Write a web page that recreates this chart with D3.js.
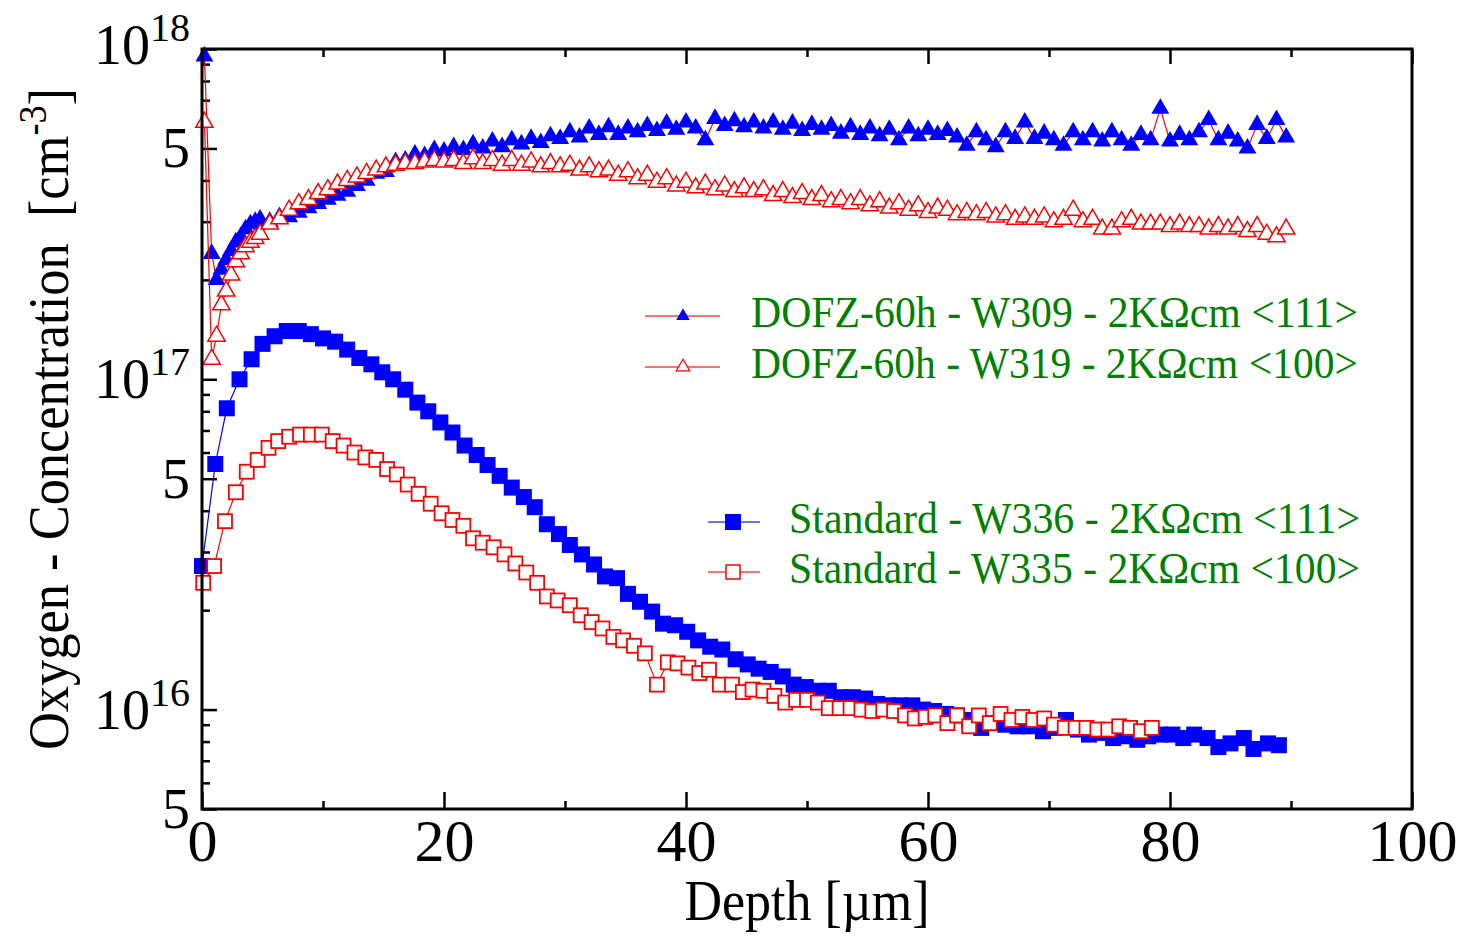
<!DOCTYPE html>
<html>
<head>
<meta charset="utf-8">
<script src="https://cdn.jsdelivr.net/npm/d3@7"></script>
<style>
body { margin: 0; background: #fff; }
svg text { font-family: "Liberation Serif", "Times New Roman", serif; }
</style>
</head>
<body>
<script>
// DOFZ wafers share one depth grid (um), values in 1e17 cm^-3
var dofzDepth = [0.2,0.8,1.2,1.6,2.0,2.4,2.8,3.2,3.6,4.0,4.4,4.8,
  5.6,6.4,7.2,8.0,8.8,9.6,10.4,11.2,12.0,12.8,
  13.6,14.4,15.2,16.0,16.8,17.6,18.4,19.2,20.0,20.8,
  21.6,22.4,23.2,24.0,24.8,25.6,26.4,27.2,28.0,28.8,
  29.6,30.4,31.2,32.0,32.8,33.6,34.4,35.2,36.0,36.8,
  37.6,38.4,39.2,40.0,40.8,41.6,42.4,43.2,44.0,44.8,
  45.6,46.4,47.2,48.0,48.8,49.6,50.4,51.2,52.0,52.8,
  53.6,54.4,55.2,56.0,56.8,57.6,58.4,59.2,60.0,60.8,
  61.6,62.4,63.2,64.0,64.8,65.6,66.4,67.2,68.0,68.8,
  69.6,70.4,71.2,72.0,72.8,73.6,74.4,75.2,76.0,76.8,
  77.6,78.4,79.2,80.0,80.8,81.6,82.4,83.2,84.0,84.8,
  85.6,86.4,87.2,88.0,88.8,89.6];

var w309 = [9.5,2.4,2.0,2.15,2.3,2.45,2.6,2.7,2.85,2.95,3.0,3.05,
  3.0,3.1,3.1,3.2,3.3,3.4,3.5,3.6,3.7,3.85,
  4.0,4.2,4.25,4.55,4.6,4.8,4.75,4.95,4.9,5.05,
  4.95,5.15,5.0,5.25,5.05,5.3,5.15,5.35,5.2,5.45,
  5.35,5.6,5.4,5.75,5.5,5.8,5.5,5.75,5.6,5.85,
  5.65,5.95,5.7,6.0,5.75,5.3,6.15,5.85,6.05,5.8,
  6.0,5.75,6.0,5.7,5.95,5.65,5.9,5.7,5.85,5.55,
  5.8,5.5,5.75,5.45,5.7,5.3,5.75,5.45,5.7,5.5,
  5.65,5.4,5.1,5.6,5.3,5.05,5.6,5.35,6.0,5.35,
  5.55,5.3,5.1,5.6,5.3,5.6,5.25,5.6,5.3,5.1,
  5.5,5.3,6.6,5.25,5.5,5.3,5.6,6.1,5.3,5.55,
  5.25,5.0,5.9,5.35,6.1,5.4];

var w319 = [6.0,1.15,1.35,1.68,1.85,2.07,2.27,2.4,2.52,2.6,2.67,2.75,
  2.95,3.06,3.25,3.4,3.5,3.65,3.75,3.9,4.0,4.1,
  4.2,4.3,4.4,4.45,4.5,4.5,4.55,4.6,4.55,4.6,
  4.5,4.65,4.5,4.6,4.45,4.6,4.45,4.55,4.4,4.5,
  4.4,4.45,4.3,4.4,4.25,4.3,4.15,4.25,4.05,4.15,
  3.95,4.05,3.85,3.95,3.8,3.9,3.75,3.85,3.7,3.8,
  3.7,3.75,3.6,3.7,3.55,3.65,3.5,3.6,3.45,3.5,
  3.4,3.5,3.35,3.45,3.3,3.4,3.25,3.35,3.2,3.3,
  3.25,3.15,3.2,3.15,3.2,3.1,3.15,3.05,3.1,3.05,
  3.1,3.0,3.05,3.25,3.0,3.05,2.85,2.85,3.0,3.05,
  2.95,2.95,2.95,2.9,2.95,2.9,2.9,2.85,2.9,2.85,
  2.9,2.8,2.9,2.75,2.7,2.85];

// standard wafers, values in 1e16 cm^-3
var w336Depth = [0,1.1,2.05,3.1,4.1,5.0,6.0,7.0,8.0,9.0,10.0,11.0,12.0,13.0,14.0,14.9,15.8,16.8,17.8,18.7,
  19.7,20.7,21.7,22.7,23.6,24.6,25.6,26.6,27.5,28.5,29.5,30.4,31.4,32.4,33.3,34.3,35.2,36.2,37.2,38.1,
  39.1,40.1,41.0,42.0,43.0,44.1,45.1,46.0,47.0,48.0,48.9,49.9,50.9,51.8,52.8,53.8,54.8,55.8,56.7,57.7,
  58.7,59.6,60.5,61.5,62.4,63.4,64.4,65.4,66.4,67.4,68.4,69.5,70.5,71.4,72.4,73.3,74.3,75.3,76.3,77.3,
  78.2,79.2,80.2,81.1,82.0,83.1,84.0,85.0,86.1,86.9,88.1,89.0];
var w336 = [2.72,5.54,8.17,10.0,11.5,12.8,13.5,14.0,14.0,13.7,13.3,13.0,12.3,11.6,11.1,10.5,10.0,9.3,8.5,8.0,
  7.4,6.9,6.3,5.9,5.5,5.1,4.7,4.4,4.1,3.64,3.4,3.15,2.95,2.75,2.53,2.5,2.24,2.12,1.98,1.82,
  1.8,1.72,1.62,1.55,1.52,1.42,1.37,1.33,1.30,1.26,1.19,1.17,1.14,1.14,1.09,1.09,1.08,1.04,1.03,1.03,
  1.03,1.0,0.99,0.97,0.96,0.93,0.88,0.91,0.9,0.89,0.89,0.86,0.88,0.93,0.87,0.84,0.85,0.82,0.83,0.81,
  0.83,0.84,0.84,0.82,0.84,0.82,0.77,0.79,0.82,0.76,0.79,0.78];

var w335Depth = [0.1,1.0,1.9,2.8,3.7,4.6,5.5,6.3,7.2,8.1,9.0,9.9,10.8,11.7,12.6,13.5,14.4,15.3,16.1,17.0,
  17.9,18.9,19.8,20.7,21.6,22.4,23.2,24.1,25.0,25.9,26.8,27.7,28.5,29.4,30.4,31.3,32.2,33.1,34.0,34.8,
  35.7,36.6,37.6,38.5,39.3,40.2,41.1,41.9,42.8,43.8,44.7,45.5,46.4,47.3,48.2,49.1,50.0,50.9,51.8,52.7,
  53.6,54.5,55.4,56.3,57.2,58.1,58.9,59.8,60.6,61.6,62.4,63.4,64.2,65.1,66.0,66.9,67.8,68.7,69.6,70.4,
  71.3,72.2,73.1,74.0,74.9,75.8,76.7,77.6,78.5];
var w335 = [2.42,2.72,3.72,4.55,5.25,5.7,6.2,6.5,6.7,6.8,6.8,6.8,6.5,6.3,6.0,5.8,5.7,5.35,5.15,4.8,
  4.5,4.2,3.93,3.75,3.6,3.3,3.2,3.1,2.95,2.77,2.6,2.42,2.2,2.14,2.07,1.93,1.84,1.76,1.66,1.62,
  1.56,1.48,1.19,1.39,1.38,1.34,1.29,1.32,1.19,1.19,1.13,1.15,1.14,1.1,1.05,1.07,1.07,1.05,1.01,1.01,
  1.01,1.0,0.99,1.0,0.99,0.96,0.94,0.95,0.96,0.91,0.96,0.89,0.96,0.91,0.97,0.93,0.95,0.93,0.94,0.9,
  0.88,0.88,0.88,0.87,0.87,0.89,0.88,0.86,0.88];

var xTicks = [0, 20, 40, 60, 80, 100];
var xMinor = [10, 30, 50, 70, 90];
var yMajor = [5e15, 1e16, 5e16, 1e17, 5e17, 1e18];
var yMinor = [6e15,7e15,8e15,9e15,2e16,3e16,4e16,6e16,7e16,8e16,9e16,
              2e17,3e17,4e17,6e17,7e17,8e17,9e17];

var legendLabels = ["DOFZ-60h - W309 - 2K\u03A9cm <111>",
                    "DOFZ-60h - W319 - 2K\u03A9cm <100>",
                    "Standard - W336 - 2K\u03A9cm <111>",
                    "Standard - W335 - 2K\u03A9cm <100>"];

var width = 1463, height = 936;
var plotL = 202, plotR = 1412, plotT = 49, plotB = 809;

var svg = d3.select("body").append("svg")
    .attr("width", width)
    .attr("height", height);

var x = d3.scaleLinear().domain([0, 100]).range([plotL, plotR]);
var y = d3.scaleLog().domain([5e15, 1e18]).range([plotB, plotT]);

//AXES (ticks point inward)
function styleAxis(g) {
    g.select(".domain").remove();
    g.selectAll(".tick line").attr("stroke", "#000").attr("stroke-width", 2.5);
}
svg.append("g").attr("transform", "translate(0," + plotB + ")")
    .call(d3.axisBottom(x).tickValues(xTicks).tickSize(-17).tickPadding(9).tickFormat(d3.format("d")))
    .call(styleAxis)
    .selectAll("text").attr("font-size", 60).attr("fill", "#000")
    .style("font-family", "'Liberation Serif', serif");
svg.append("g").attr("transform", "translate(0," + plotB + ")")
    .call(d3.axisBottom(x).tickValues(xMinor).tickSize(-8).tickFormat(""))
    .call(styleAxis);
svg.append("g").attr("transform", "translate(0," + plotT + ")")
    .call(d3.axisTop(x).tickValues(xTicks).tickSize(-15).tickFormat(""))
    .call(styleAxis);
svg.append("g").attr("transform", "translate(0," + plotT + ")")
    .call(d3.axisTop(x).tickValues(xMinor).tickSize(-8).tickFormat(""))
    .call(styleAxis);
svg.append("g").attr("transform", "translate(" + plotL + ",0)")
    .call(d3.axisLeft(y).tickValues(yMajor).tickSize(-15).tickFormat(""))
    .call(styleAxis);
svg.append("g").attr("transform", "translate(" + plotL + ",0)")
    .call(d3.axisLeft(y).tickValues(yMinor).tickSize(-8).tickFormat(""))
    .call(styleAxis);

// y tick labels: 10^n or 5
yMajor.forEach(function(v) {
    var exp = Math.floor(Math.log10(v) + 1e-9);
    var mant = Math.round(v / Math.pow(10, exp));
    var t = svg.append("text")
        .attr("x", 190)
        .attr("y", y(v) + (v === 1e18 ? 15 : 19))
        .attr("text-anchor", "end")
        .attr("font-size", 56);
    if (mant === 1) {
        t.append("tspan").text("10");
        t.append("tspan").attr("dy", -23).attr("font-size", 40).text(exp);
    } else {
        t.text(mant);
    }
});

// axis titles
svg.append("text")
    .attr("x", (plotL + plotR) / 2)
    .attr("y", 920)
    .attr("text-anchor", "middle")
    .attr("font-size", 58)
    .attr("textLength", 245)
    .attr("lengthAdjust", "spacingAndGlyphs")
    .text("Depth [\u00B5m]");

var yt = svg.append("text")
    .attr("transform", "translate(68,419) rotate(-90)")
    .attr("text-anchor", "middle")
    .attr("font-size", 58)
    .attr("textLength", 662)
    .attr("lengthAdjust", "spacingAndGlyphs")
    .style("white-space", "pre");
yt.append("tspan").text("Oxygen - Concentration  [cm");
yt.append("tspan").attr("dy", -22).attr("font-size", 40).text("-3");
yt.append("tspan").attr("dy", 22).text("]");

//SERIES
var plot = svg.append("g");
var tri = d3.symbol().type(d3.symbolTriangle);

function drawSeries(depth, vals, unit, lineColor, marker) {
    var pts = depth.map(function(d, i) { return [d, vals[i] * unit]; });
    var line = d3.line().x(function(p) { return x(p[0]); }).y(function(p) { return y(p[1]); });
    plot.append("path").datum(pts)
        .attr("d", line)
        .attr("fill", "none")
        .attr("stroke", lineColor)
        .attr("stroke-width", 1.2);
    var g = plot.append("g");
    if (marker === "filledSquare") {
        g.selectAll("rect").data(pts).enter().append("rect")
            .attr("x", function(p) { return x(p[0]) - 8; })
            .attr("y", function(p) { return y(p[1]) - 8; })
            .attr("width", 16).attr("height", 16)
            .attr("fill", "#0000ff");
    } else if (marker === "openSquare") {
        g.selectAll("rect").data(pts).enter().append("rect")
            .attr("x", function(p) { return x(p[0]) - 7; })
            .attr("y", function(p) { return y(p[1]) - 7; })
            .attr("width", 14).attr("height", 14)
            .attr("fill", "#fff")
            .attr("stroke", "#ff0000")
            .attr("stroke-width", 1.8);
    } else if (marker === "filledTriangle") {
        g.selectAll("path").data(pts).enter().append("path")
            .attr("d", tri.size(140))
            .attr("transform", function(p) { return "translate(" + x(p[0]) + "," + y(p[1]) + ")"; })
            .attr("fill", "#0000ff");
    } else {
        g.selectAll("path").data(pts).enter().append("path")
            .attr("d", tri.size(130))
            .attr("transform", function(p) { return "translate(" + x(p[0]) + "," + y(p[1]) + ")"; })
            .attr("fill", "#fff")
            .attr("stroke", "#ff0000")
            .attr("stroke-width", 1.5);
    }
}

drawSeries(w336Depth, w336, 1e16, "#0000ff", "filledSquare");
drawSeries(w335Depth, w335, 1e16, "#ff0000", "openSquare");
drawSeries(dofzDepth, w309, 1e17, "#ff0000", "filledTriangle");
drawSeries(dofzDepth, w319, 1e17, "#ff0000", "openTriangle");

// frame
svg.append("rect")
    .attr("x", plotL).attr("y", plotT)
    .attr("width", plotR - plotL).attr("height", plotB - plotT)
    .attr("fill", "none")
    .attr("stroke", "#000")
    .attr("stroke-width", 3);

//LEGEND
var legendRows = [
    {y: 316, x1: 645, x2: 720, mx: 683, tx: 751, len: 607, line: "#ff4040", marker: "filledTriangle"},
    {y: 367, x1: 645, x2: 720, mx: 683, tx: 751, len: 607, line: "#ff4040", marker: "openTriangle"},
    {y: 522, x1: 708, x2: 760, mx: 733, tx: 789, len: 571, line: "#4040ff", marker: "filledSquare"},
    {y: 572, x1: 708, x2: 760, mx: 733, tx: 789, len: 571, line: "#ff4040", marker: "openSquare"}
];
var lg = svg.append("g");
legendRows.forEach(function(r, i) {
    lg.append("line")
        .attr("x1", r.x1).attr("x2", r.x2)
        .attr("y1", r.y).attr("y2", r.y)
        .attr("stroke", r.line).attr("stroke-width", 1.5);
    if (r.marker === "filledTriangle") {
        lg.append("path").attr("d", tri.size(80))
            .attr("transform", "translate(" + r.mx + "," + r.y + ")")
            .attr("fill", "#0000ff");
    } else if (r.marker === "openTriangle") {
        lg.append("path").attr("d", tri.size(80))
            .attr("transform", "translate(" + r.mx + "," + r.y + ")")
            .attr("fill", "#fff").attr("stroke", "#ff0000").attr("stroke-width", 1.2);
    } else if (r.marker === "filledSquare") {
        lg.append("rect").attr("x", r.mx - 8).attr("y", r.y - 8)
            .attr("width", 16).attr("height", 16).attr("fill", "#0000ff");
    } else {
        lg.append("rect").attr("x", r.mx - 7).attr("y", r.y - 7)
            .attr("width", 14).attr("height", 14)
            .attr("fill", "#fff").attr("stroke", "#ff0000").attr("stroke-width", 1.5);
    }
    lg.append("text")
        .attr("x", r.tx)
        .attr("y", r.y + 11)
        .attr("font-size", 44)
        .attr("fill", "#008000")
        .attr("textLength", r.len)
        .attr("lengthAdjust", "spacingAndGlyphs")
        .text(legendLabels[i]);
});
</script>
</body>
</html>
